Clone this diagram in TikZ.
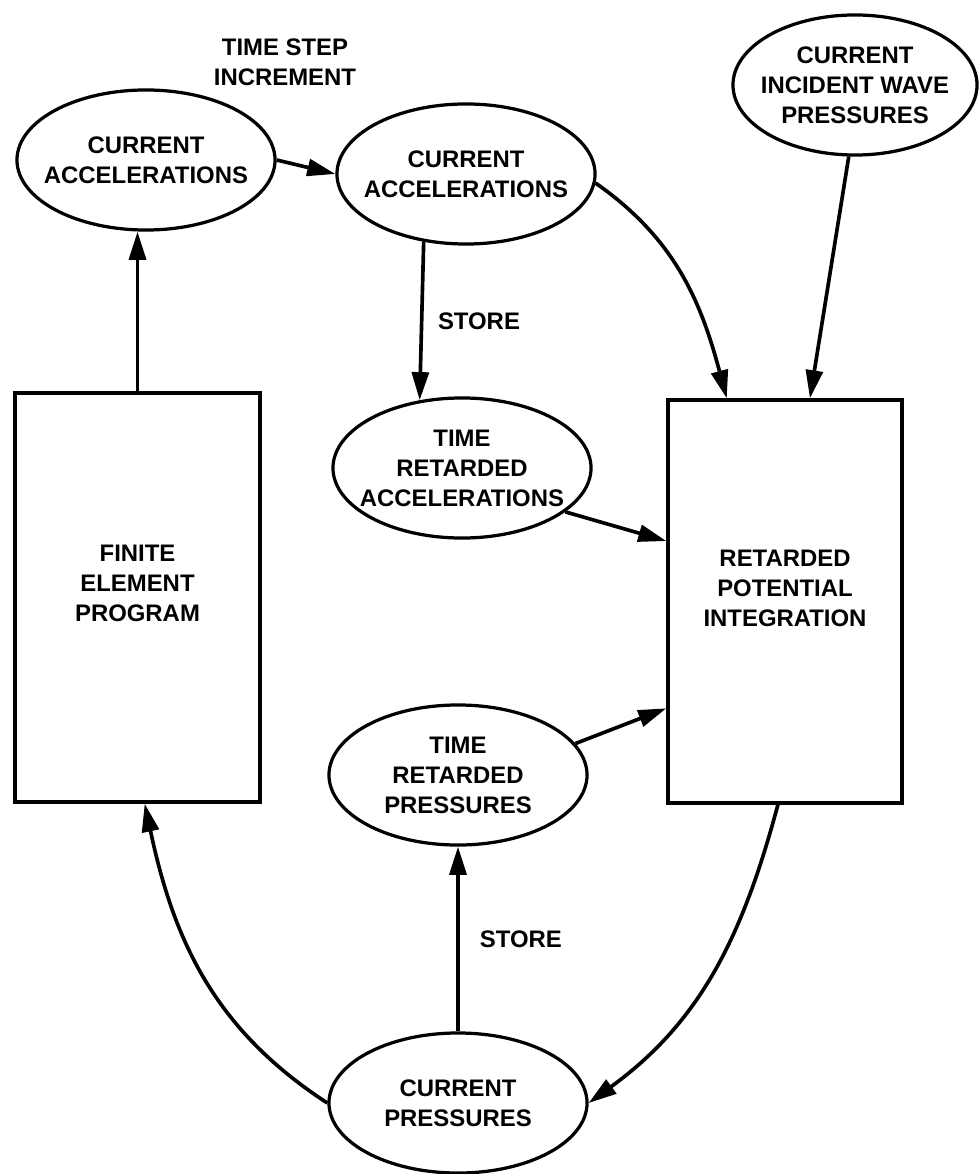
\documentclass[tikz,border=0pt]{standalone}
\usepackage{fontspec}
\setmainfont{Liberation Sans}
\usepackage{tikz}
\usetikzlibrary{shapes.geometric}
\usetikzlibrary{arrows.meta}
\usetikzlibrary{positioning}

\begin{document}
\begin{tikzpicture}[x=0.025cm,y=-0.025cm,
  txt/.style={font=\fontsize{17}{21.3}\selectfont\bfseries,align=center},
  oval/.style={txt,ellipse,draw,line width=2.3pt,inner xsep=-20pt,inner ysep=0pt,minimum width=6.45cm,minimum height=3.5cm},
  blockbox/.style={rectangle,draw,line width=2.3pt},
  flow/.style={line width=2.6pt,-{Triangle[length=20pt,width=12pt]}}]
\useasboundingbox (0,0) rectangle (978,1174);

\node[txt] (tstep) at (285,62) {TIME STEP\\INCREMENT};
\node[oval] (accA) at (146,160) {CURRENT\\ACCELERATIONS};
\node[oval] (accB) at (466,174) {CURRENT\\ACCELERATIONS};
\node[oval,minimum width=6.1cm] (wave) at (855,85) {CURRENT\\INCIDENT WAVE\\PRESSURES};
\node[oval] (tra) at (462,468) {TIME\\RETARDED\\ACCELERATIONS};
\node[oval] (trp) at (458,775) {TIME\\RETARDED\\PRESSURES};
\node[oval] (cpr) at (458,1103) {CURRENT\\PRESSURES};

\node[blockbox,minimum width=6.125cm,minimum height=10.225cm] (fep) at (137.5,597.5) {};
\node[txt] (fepText) at (137.5,583) {FINITE\\ELEMENT\\PROGRAM};
\node[blockbox,minimum width=5.85cm,minimum height=10.075cm] (rpi) at (785,601.5) {};
\node[txt] (rpiText) at (785,588) {RETARDED\\POTENTIAL\\INTEGRATION};

% accelerations
\draw[flow] (accA.east) -- (accB.west);
\draw[flow] (fep.north) -- (fep.north |- accA.south);
\draw[flow] (accB.238) -- node[txt,right=7pt] (storeA) {STORE} (tra.122);
\draw[flow] (accB.-4) to[out=-35,in=105] (rpi.106);
\draw[flow] (wave.265) -- (rpi.83);
\draw[flow] (tra.-23) -- (rpi.153);

% pressures
\draw[flow] (trp.15) -- (rpi.222);
\draw[flow] (rpi.268) to[out=255,in=36] (cpr.east);
\draw[flow] (cpr) -- node[txt,right=11pt] (storeB) {STORE} (trp);
\draw[flow] (cpr.west) to[out=147,in=282] (fep.-88);

\end{tikzpicture}
\end{document}
